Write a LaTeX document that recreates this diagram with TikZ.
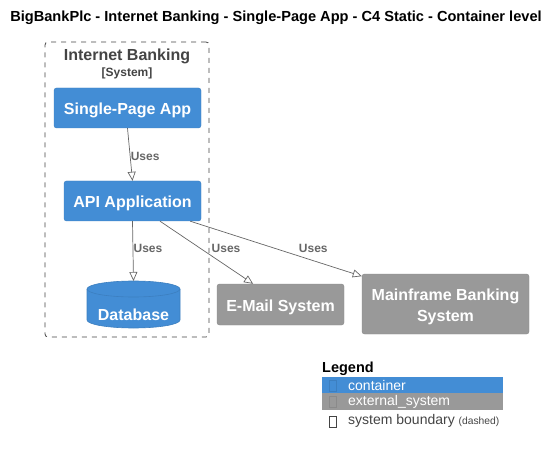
\documentclass[tikz,border=0pt]{standalone}
\usepackage{fontspec}
\setmainfont{Liberation Sans}
\usetikzlibrary{arrows.meta,calc}
\definecolor{cblue}{HTML}{438DD5}
\definecolor{cblueb}{HTML}{3C7FC0}
\definecolor{cgray}{HTML}{999999}
\definecolor{cgrayb}{HTML}{8A8A8A}
\definecolor{cline}{HTML}{666666}
\definecolor{cdark}{HTML}{444444}
\begin{document}
\begin{tikzpicture}[x=1pt,y=1pt,
 elem/.style={rounded corners=2.5pt, text=white, font=\fontsize{16}{21}\selectfont\bfseries, align=center, inner sep=0pt, text height=14pt, text depth=0pt},
 cont/.style={elem, fill=cblue, draw=cblueb},
 ext/.style={elem, fill=cgray, draw=cgrayb},
 rel/.style={draw=cline, line width=0.7pt, -{Triangle[open, length=9pt, width=8pt]}},
 lbl/.style={text=cline, font=\fontsize{12}{14}\selectfont\bfseries, inner sep=0pt},
 tofu/.style={draw, line width=0.4pt, minimum width=7pt, minimum height=11pt, inner sep=0pt},
 legtext/.style={font=\fontsize{14}{16}\selectfont, inner sep=0pt, anchor=west},
]
\useasboundingbox (0,0) rectangle (559,-454);
\node[font=\fontsize{14.6}{17}\selectfont\bfseries, inner sep=0pt] (title) at (276,-18) {BigBankPlc - Internet Banking - Single-Page App - C4 Static - Container level};

% boundary
\node[draw=cdark, dashed, dash pattern=on 5pt off 5pt, rounded corners=3pt, line width=0.8pt, minimum width=164pt, minimum height=295pt, inner sep=0pt] (boundary) at (127,-189.5) {};
\node[text=cdark, font=\fontsize{16}{19}\selectfont\bfseries, inner sep=0pt] (blabel) at (127,-56) {Internet Banking};
\node[text=cdark, font=\fontsize{12}{14}\selectfont\bfseries, inner sep=0pt] (bsys) at (127,-73) {[System]};

% containers
\node[cont, minimum width=147pt, minimum height=40pt] (spa) at (127.5,-108) {Single-Page App};
\node[cont, minimum width=137pt, minimum height=40pt] (api) at (132.5,-201) {API Application};

% database cylinder
\fill[cblue, draw=cblueb, line width=0.6pt] (87,-289) -- (87,-320) arc[start angle=180, end angle=360, x radius=46.5pt, y radius=8pt] -- (180,-289) arc[start angle=0, end angle=180, x radius=46.5pt, y radius=8pt] -- cycle;
\draw[cblueb, line width=0.6pt] (87,-289) arc[start angle=180, end angle=360, x radius=46.5pt, y radius=8pt];
\coordinate (dbtop) at (133.5,-281);
\node[text=white, font=\fontsize{16}{19}\selectfont\bfseries, inner sep=0pt] (db) at (133.5,-314.5) {Database};

% external systems
\node[ext, minimum width=127pt, minimum height=41pt] (email) at (280.5,-304.5) {E-Mail System};
\node[ext, minimum width=167pt, minimum height=60pt, text height=34pt, text depth=0pt] (mf) at (445.5,-304) {Mainframe Banking\\System};

% relations
\draw[rel] (spa.south) -- (api.north) node[lbl, pos=0.53, xshift=15pt] (l1) {Uses};
\draw[rel] (api.south) -- (dbtop) node[lbl, pos=0.46, xshift=15pt] (l2) {Uses};
\draw[rel] ($(api.south)!0.40!(api.south east)$) -- ($(email.north west)!0.57!(email.north)$) node[lbl, pos=0.43, xshift=26pt] (l3) {Uses};
\draw[rel] ($(api.south)!0.84!(api.south east)$) -- ($(mf.north west)!0.04!(mf.south west)$) node[lbl, pos=0.49, xshift=39pt] (l4) {Uses};

% legend
\node[font=\fontsize{14.5}{17}\selectfont\bfseries, inner sep=0pt, anchor=west] (legend) at (322,-369) {Legend};
\node[fill=cblue, minimum width=181pt, minimum height=16.5pt, inner sep=0pt, anchor=north west] (lg1) at (322,-376.5) {};
\node[fill=cgray, minimum width=181pt, minimum height=17pt, inner sep=0pt, anchor=north west] (lg2) at (322,-393) {};
\node[tofu, draw=cblueb] (t1) at (333,-385.5) {};
\node[tofu, draw=cgrayb] (t2) at (333,-402) {};
\node[tofu, draw=cdark] (t3) at (333,-422) {};
\node[legtext, text=white] (lt1) at (348,-385) {container};
\node[legtext, text=white] (lt2) at (348,-401.5) {external\_system};
\node[legtext, text=cdark] (lt3) at (348,-421) {system boundary {\fontsize{10.3}{11}\selectfont (dashed)}};
\end{tikzpicture}
\end{document}
